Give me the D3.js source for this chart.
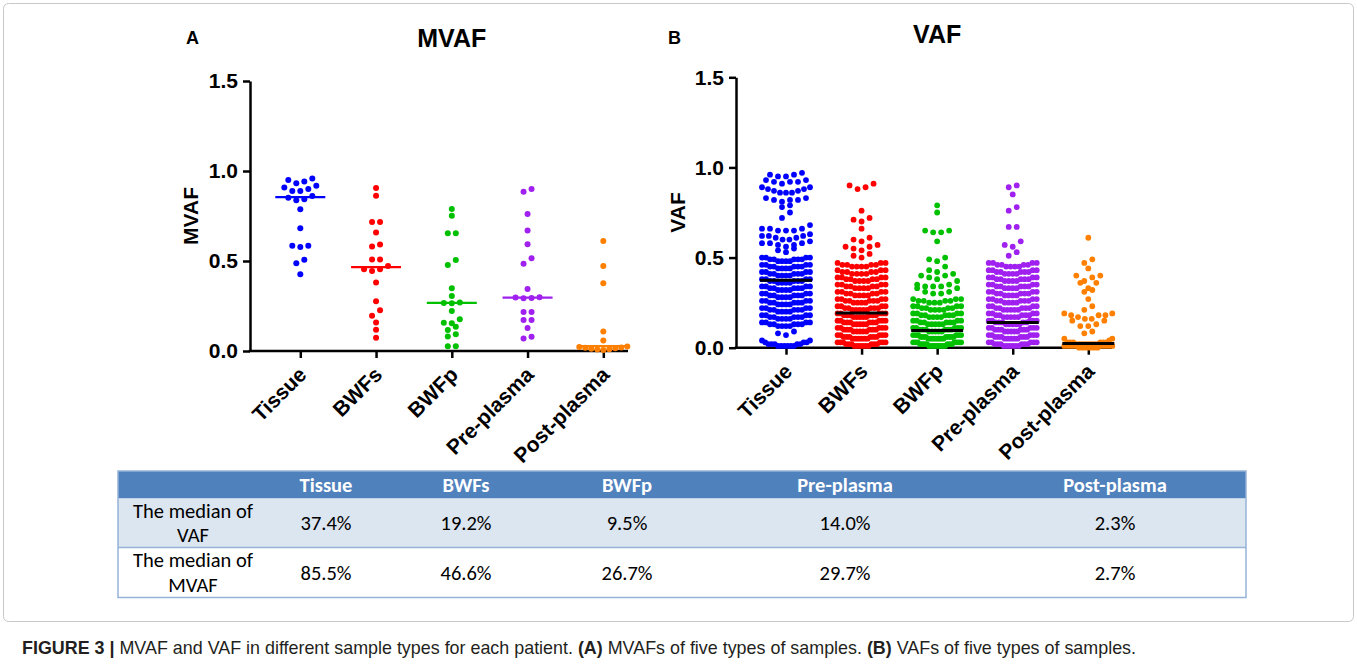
<!DOCTYPE html>
<html>
<head>
<meta charset="utf-8">
<script src="https://cdn.jsdelivr.net/npm/d3@7"></script>
<style>
  body { margin: 0; background: #fff; }
  svg { display: block; }
</style>
</head>
<body>
<div id="chart"></div>
<script>
// categories and colours
const categories = ["Tissue", "BWFs", "BWFp", "Pre-plasma", "Post-plasma"];
const colors = ["#0000ff", "#ff0000", "#00c000", "#a020f0", "#ff8000"];
const yTicks = [0, 0.5, 1.0, 1.5];

// table values (medians, %)
const vafMedianPct = [37.4, 19.2, 9.5, 14.0, 2.3];
const mvafMedianPct = [85.5, 46.6, 26.7, 29.7, 2.7];
const rowLabels = [["The median of", "VAF"], ["The median of", "MVAF"]];

// panel A: MVAF per patient
const tissueMVAF = [0.959, 0.950, 0.941, 0.932, 0.918, 0.909, 0.900, 0.889, 0.889, 0.861, 0.852, 0.843, 0.837,
  0.787, 0.682, 0.585, 0.585, 0.578, 0.507, 0.487, 0.426];
const bwfsMVAF = [0.906, 0.863, 0.717, 0.717, 0.659, 0.591, 0.580, 0.509, 0.509, 0.472, 0.454, 0.454, 0.444,
  0.380, 0.276, 0.226, 0.196, 0.159, 0.118, 0.074];
const bwfpMVAF = [0.789, 0.752, 0.654, 0.654, 0.505, 0.478, 0.348, 0.306, 0.270, 0.267, 0.265, 0.222, 0.176,
  0.157, 0.154, 0.135, 0.117, 0.093, 0.081, 0.026, 0.026];
const prePlasmaMVAF = [0.900, 0.885, 0.761, 0.669, 0.593, 0.515, 0.485, 0.344, 0.299, 0.297, 0.295, 0.293,
  0.217, 0.217, 0.172, 0.172, 0.128, 0.079, 0.070];
const postPlasmaMVAF = [0.611, 0.472, 0.376, 0.109, 0.059, 0.025, 0.022, 0.020, 0.018, 0.015, 0.012, 0.010,
  0.008, 0.005];

// panel B: VAF per mutation
const tissueVAF = [
  0.97, 0.96, 0.96, 0.95, 0.95,
  0.93, 0.93, 0.92, 0.92, 0.92, 0.91,
  0.89, 0.89, 0.88, 0.88, 0.87, 0.87, 0.86, 0.86, 0.86,
  0.83, 0.83, 0.82, 0.82, 0.82, 0.81,
  0.79, 0.78, 0.75, 0.72,
  0.68, 0.66, 0.66, 0.66, 0.65, 0.65, 0.65,
  0.63, 0.62, 0.62, 0.62, 0.61, 0.61, 0.60, 0.60,
  0.59, 0.58, 0.58, 0.58, 0.57, 0.57, 0.56,
  0.55, 0.54, 0.53,
  0.50, 0.50, 0.50, 0.50, 0.49, 0.49, 0.49, 0.49, 0.49, 0.48, 0.48, 0.48, 0.48,
  0.46, 0.46, 0.46, 0.46, 0.45, 0.45, 0.45, 0.45, 0.45, 0.44, 0.44, 0.44, 0.44,
  0.42, 0.42, 0.42, 0.42, 0.41, 0.41, 0.41, 0.41, 0.41, 0.40, 0.40, 0.40, 0.40,
  0.38, 0.38, 0.38, 0.38, 0.37, 0.37, 0.37, 0.37, 0.37, 0.36, 0.36, 0.36, 0.36,
  0.34, 0.34, 0.34, 0.34, 0.33, 0.33, 0.33, 0.33, 0.33, 0.32, 0.32, 0.32, 0.32,
  0.30, 0.30, 0.30, 0.30, 0.29, 0.29, 0.29, 0.29, 0.29, 0.28, 0.28, 0.28, 0.28,
  0.26, 0.26, 0.26, 0.26, 0.25, 0.25, 0.25, 0.25, 0.25, 0.24, 0.24, 0.24, 0.24,
  0.22, 0.22, 0.22, 0.22, 0.21, 0.21, 0.21, 0.21, 0.21, 0.20, 0.20, 0.20, 0.20,
  0.18, 0.18, 0.18, 0.18, 0.17, 0.17, 0.17, 0.17, 0.17, 0.16, 0.16, 0.16, 0.16,
  0.14, 0.14, 0.14, 0.14, 0.13, 0.13, 0.13, 0.13, 0.13, 0.12, 0.12, 0.12, 0.12,
  0.09, 0.08, 0.07,
  0.04, 0.04, 0.03, 0.03, 0.03, 0.02, 0.02, 0.02, 0.02, 0.02, 0.01, 0.01, 0.01, 0.01, 0.01, 0.01
];
const bwfsVAF = [
  0.91, 0.90, 0.89, 0.88, 0.76, 0.72, 0.71, 0.70, 0.66, 0.61, 0.60, 0.59,
  0.57, 0.56, 0.56, 0.55, 0.54, 0.52, 0.51, 0.50,
  0.47, 0.47, 0.47, 0.46, 0.46, 0.46, 0.46, 0.45, 0.45, 0.45, 0.45,
  0.43, 0.43, 0.43, 0.42, 0.42, 0.42, 0.42, 0.41, 0.41, 0.41, 0.41,
  0.39, 0.39, 0.39, 0.39, 0.38, 0.38, 0.38, 0.38, 0.37, 0.37, 0.37, 0.37,
  0.35, 0.35, 0.35, 0.35, 0.34, 0.34, 0.34, 0.34, 0.33, 0.33, 0.33, 0.33,
  0.31, 0.31, 0.31, 0.31, 0.30, 0.30, 0.30, 0.30, 0.29, 0.29, 0.29, 0.29,
  0.27, 0.27, 0.27, 0.27, 0.26, 0.26, 0.26, 0.26, 0.26, 0.25, 0.25, 0.25, 0.25,
  0.23, 0.23, 0.23, 0.23, 0.22, 0.22, 0.22, 0.22, 0.22, 0.21, 0.21, 0.21, 0.21, 0.21,
  0.19, 0.19, 0.19, 0.19, 0.19, 0.18, 0.18, 0.18, 0.18, 0.18, 0.18, 0.17, 0.17, 0.17, 0.17, 0.17,
  0.15, 0.15, 0.15, 0.15, 0.15, 0.14, 0.14, 0.14, 0.14, 0.14, 0.14, 0.13, 0.13, 0.13, 0.13, 0.13,
  0.11, 0.11, 0.11, 0.11, 0.11, 0.10, 0.10, 0.10, 0.10, 0.10, 0.10, 0.09, 0.09, 0.09, 0.09, 0.09,
  0.07, 0.07, 0.07, 0.07, 0.07, 0.06, 0.06, 0.06, 0.06, 0.06, 0.06, 0.05, 0.05, 0.05, 0.05, 0.05, 0.05,
  0.03, 0.03, 0.03, 0.03, 0.03, 0.03, 0.02, 0.02, 0.02, 0.02, 0.02, 0.02, 0.01, 0.01, 0.01, 0.01, 0.01, 0.01
];
const bwfpVAF = [
  0.79, 0.75, 0.65, 0.65, 0.64, 0.64, 0.59, 0.50, 0.49, 0.48, 0.45, 0.43, 0.42,
  0.41, 0.40, 0.40, 0.39, 0.38, 0.37, 0.35, 0.35, 0.34, 0.34, 0.34,
  0.33, 0.33, 0.31, 0.31, 0.30, 0.30,
  0.27, 0.27, 0.27, 0.26, 0.26, 0.26, 0.26, 0.25, 0.25, 0.25,
  0.23, 0.23, 0.23, 0.23, 0.22, 0.22, 0.22, 0.22, 0.21, 0.21, 0.21, 0.21,
  0.19, 0.19, 0.19, 0.19, 0.18, 0.18, 0.18, 0.18, 0.18, 0.17, 0.17, 0.17, 0.17,
  0.15, 0.15, 0.15, 0.15, 0.14, 0.14, 0.14, 0.14, 0.14, 0.13, 0.13, 0.13, 0.13, 0.13,
  0.11, 0.11, 0.11, 0.11, 0.11, 0.10, 0.10, 0.10, 0.10, 0.10, 0.10, 0.09, 0.09, 0.09, 0.09, 0.09,
  0.07, 0.07, 0.07, 0.07, 0.07, 0.07, 0.06, 0.06, 0.06, 0.06, 0.06, 0.06, 0.06,
  0.05, 0.05, 0.05, 0.05, 0.05, 0.05, 0.05,
  0.03, 0.03, 0.03, 0.03, 0.03, 0.03, 0.03, 0.02, 0.02, 0.02, 0.02, 0.02, 0.02, 0.02,
  0.01, 0.01, 0.01, 0.01, 0.01, 0.01, 0.01, 0.01
];
const prePlasmaVAF = [
  0.90, 0.89, 0.85, 0.78, 0.76, 0.67, 0.67, 0.59, 0.57, 0.56, 0.53, 0.51,
  0.47, 0.47, 0.47, 0.47, 0.46, 0.46, 0.46, 0.46, 0.45, 0.45, 0.45, 0.45,
  0.43, 0.43, 0.43, 0.43, 0.42, 0.42, 0.42, 0.42, 0.42, 0.41, 0.41, 0.41, 0.41,
  0.39, 0.39, 0.39, 0.39, 0.38, 0.38, 0.38, 0.38, 0.38, 0.37, 0.37, 0.37, 0.37,
  0.35, 0.35, 0.35, 0.35, 0.34, 0.34, 0.34, 0.34, 0.34, 0.33, 0.33, 0.33, 0.33,
  0.31, 0.31, 0.31, 0.31, 0.30, 0.30, 0.30, 0.30, 0.30, 0.29, 0.29, 0.29, 0.29,
  0.27, 0.27, 0.27, 0.27, 0.26, 0.26, 0.26, 0.26, 0.26, 0.25, 0.25, 0.25, 0.25,
  0.23, 0.23, 0.23, 0.23, 0.22, 0.22, 0.22, 0.22, 0.22, 0.21, 0.21, 0.21, 0.21, 0.21,
  0.19, 0.19, 0.19, 0.19, 0.18, 0.18, 0.18, 0.18, 0.18, 0.17, 0.17, 0.17, 0.17, 0.17,
  0.15, 0.15, 0.15, 0.15, 0.15, 0.14, 0.14, 0.14, 0.14, 0.14, 0.13, 0.13, 0.13, 0.13, 0.13,
  0.11, 0.11, 0.11, 0.11, 0.11, 0.10, 0.10, 0.10, 0.10, 0.10, 0.10, 0.09, 0.09, 0.09, 0.09, 0.09,
  0.07, 0.07, 0.07, 0.07, 0.07, 0.06, 0.06, 0.06, 0.06, 0.06, 0.06, 0.05, 0.05, 0.05, 0.05, 0.05,
  0.03, 0.03, 0.03, 0.03, 0.03, 0.02, 0.02, 0.02, 0.02, 0.02, 0.02, 0.01, 0.01, 0.01, 0.01, 0.01, 0.01
];
const postPlasmaVAF = [
  0.61, 0.49, 0.47, 0.44, 0.40, 0.40, 0.39, 0.37, 0.36, 0.36, 0.33, 0.32, 0.31, 0.27, 0.23, 0.21,
  0.19, 0.19, 0.18, 0.18, 0.18, 0.17, 0.16, 0.16, 0.15, 0.15, 0.13, 0.12, 0.12, 0.09, 0.08,
  0.05, 0.05, 0.04, 0.03, 0.03, 0.03, 0.03, 0.03, 0.03,
  0.02, 0.02, 0.02, 0.02, 0.02, 0.02, 0.02, 0.02,
  0.01, 0.01, 0.01, 0.01, 0.01, 0.01, 0.01, 0.01,
  0.00, 0.00, 0.00, 0.00, 0.00, 0.00
];

const chartFont = "'Liberation Sans', Arial, sans-serif";
const tableFont = "Carlito, Lato, sans-serif";

const svg = d3.select("#chart").append("svg")
  .attr("width", 1357)
  .attr("height", 666);

// figure frame
svg.append("rect")
  .attr("x", 3.5).attr("y", 3.5)
  .attr("width", 1350).attr("height", 618)
  .attr("rx", 5)
  .attr("fill", "none")
  .attr("stroke", "#c8c8c8");

// Prism-like scatter: bin points into rows, lowest value in the middle of a row
const swarm = function (values, y, binPx, sMax, halfW) {
  const sorted = values.slice().sort((a, b) => b - a);
  const out = [];
  let i = 0;
  while (i < sorted.length) {
    const top = y(sorted[i]);
    const bin = [];
    while (i < sorted.length && y(sorted[i]) - top < binPx) { bin.push(sorted[i]); i++; }
    bin.sort((a, b) => a - b);
    const n = bin.length;
    const s = n > 1 ? Math.min(sMax, 2 * halfW / (n - 1)) : 0;
    const offs = d3.range(n).map(k => (k - (n - 1) / 2) * s)
      .sort((a, b) => Math.abs(a) - Math.abs(b) || a - b);
    bin.forEach((v, k) => out.push({ v: v, dx: offs[k] }));
  }
  return out;
};

const panels = [
  {
    letter: "A", title: "MVAF", yLabel: "MVAF",
    series: [tissueMVAF, bwfsMVAF, bwfpMVAF, prePlasmaMVAF, postPlasmaMVAF],
    medians: mvafMedianPct, lineColor: null,
    left: 250, top: 81, bottom: 351, xFirst: 300.3, xLast: 603.3, xEnd: 628,
    r: 3, lineW: 2.3, lineHalf: 25, binPx: 6, sMax: 8, halfW: 24,
    letterX: 186, letterY: 43.5, titleY: 46.5, yLabelX: 198
  },
  {
    letter: "B", title: "VAF", yLabel: "VAF",
    series: [tissueVAF, bwfsVAF, bwfpVAF, prePlasmaVAF, postPlasmaVAF],
    medians: vafMedianPct, lineColor: "#000",
    left: 736, top: 77.3, bottom: 347.7, xFirst: 786, xLast: 1088.3, xEnd: 1112,
    r: 2.9, lineW: 3, lineHalf: 26, binPx: 6, sMax: 8, halfW: 24,
    letterX: 668, letterY: 43.5, titleY: 42.7, yLabelX: 685
  }
];

const drawPanel = function (p) {
  const y = d3.scaleLinear().domain([0, 1.5]).range([p.bottom, p.top]);
  const x = d3.scalePoint().domain(categories).range([p.xFirst, p.xLast]);

  // Y axis
  const gy = svg.append("g")
    .attr("transform", `translate(${p.left},0)`)
    .call(d3.axisLeft(y).tickValues(yTicks).tickFormat(d3.format(".1f"))
      .tickSize(7).tickPadding(5).tickSizeOuter(0));
  gy.attr("font-family", chartFont).attr("font-size", 21).attr("font-weight", "bold");
  gy.selectAll("path, line").attr("stroke", "#000").attr("stroke-width", 2.5);
  gy.selectAll("text").attr("fill", "#000");

  // X axis
  const gx = svg.append("g")
    .attr("transform", `translate(0,${p.bottom})`)
    .call(d3.axisBottom(x).tickSize(7).tickSizeOuter(0));
  gx.attr("font-family", chartFont).attr("font-size", 21).attr("font-weight", "bold");
  gx.select(".domain").attr("d", `M${p.left - 1.25},0H${p.xEnd}`);
  gx.selectAll("path, line").attr("stroke", "#000").attr("stroke-width", 2.5);
  gx.selectAll(".tick text")
    .attr("fill", "#000")
    .attr("text-anchor", "end")
    .attr("x", 0).attr("y", 0).attr("dy", null)
    .attr("transform", "translate(7,25) rotate(-45)");

  // dots
  p.series.forEach((vals, i) => {
    const pts = swarm(vals, y, p.binPx, p.sMax, p.halfW);
    svg.append("g").selectAll("circle")
      .data(pts)
      .join("circle")
      .attr("cx", d => x(categories[i]) + d.dx)
      .attr("cy", d => y(d.v))
      .attr("r", p.r)
      .attr("fill", colors[i]);
  });

  // median lines
  svg.append("g").selectAll("line")
    .data(p.medians)
    .join("line")
    .attr("x1", (d, i) => x(categories[i]) - p.lineHalf)
    .attr("x2", (d, i) => x(categories[i]) + p.lineHalf)
    .attr("y1", d => y(d / 100))
    .attr("y2", d => y(d / 100))
    .attr("stroke", (d, i) => p.lineColor || colors[i])
    .attr("stroke-width", p.lineW);

  // titles
  svg.append("text")
    .attr("x", p.letterX).attr("y", p.letterY)
    .attr("font-family", chartFont).attr("font-weight", "bold").attr("font-size", 18)
    .text(p.letter);
  svg.append("text")
    .attr("x", x(categories[2])).attr("y", p.titleY)
    .attr("text-anchor", "middle")
    .attr("font-family", chartFont).attr("font-weight", "bold").attr("font-size", 25)
    .text(p.title);
  svg.append("text")
    .attr("transform", `translate(${p.yLabelX},${(p.top + p.bottom) / 2}) rotate(-90)`)
    .attr("text-anchor", "middle")
    .attr("font-family", chartFont).attr("font-weight", "bold").attr("font-size", 21)
    .text(p.yLabel);
};

panels.forEach(drawPanel);

// table of medians
const colEdges = [118, 268, 384, 548, 706, 984, 1246];
const rowEdges = [471, 498.5, 547.5, 597.5];
const colMid = d3.range(colEdges.length - 1).map(i => (colEdges[i] + colEdges[i + 1]) / 2);
const table = svg.append("g").attr("font-family", tableFont).attr("font-size", 20.5);

table.selectAll("rect.row")
  .data(["#4f81bd", "#dce6f1", "#ffffff"])
  .join("rect")
  .attr("class", "row")
  .attr("x", colEdges[0])
  .attr("y", (d, i) => rowEdges[i])
  .attr("width", colEdges[colEdges.length - 1] - colEdges[0])
  .attr("height", (d, i) => rowEdges[i + 1] - rowEdges[i])
  .attr("fill", d => d);

table.append("line")
  .attr("x1", colEdges[0]).attr("x2", colEdges[colEdges.length - 1])
  .attr("y1", rowEdges[2]).attr("y2", rowEdges[2])
  .attr("stroke", "#95b3d7").attr("stroke-width", 1.5);
table.append("rect")
  .attr("x", colEdges[0]).attr("y", rowEdges[0])
  .attr("width", colEdges[colEdges.length - 1] - colEdges[0])
  .attr("height", rowEdges[3] - rowEdges[0])
  .attr("fill", "none").attr("stroke", "#95b3d7").attr("stroke-width", 1.5);

table.selectAll("text.head")
  .data(categories)
  .join("text")
  .attr("class", "head")
  .attr("x", (d, i) => colMid[i + 1])
  .attr("y", (rowEdges[0] + rowEdges[1]) / 2)
  .attr("dy", "0.35em")
  .attr("text-anchor", "middle")
  .attr("font-weight", "bold")
  .attr("fill", "#fff")
  .text(d => d);

[vafMedianPct, mvafMedianPct].forEach((vals, r) => {
  const yMid = (rowEdges[r + 1] + rowEdges[r + 2]) / 2;
  table.append("g").selectAll("text")
    .data(rowLabels[r])
    .join("text")
    .attr("x", colMid[0])
    .attr("y", (d, k) => yMid + (k - 0.5) * 24.5)
    .attr("dy", "0.35em")
    .attr("text-anchor", "middle")
    .attr("fill", "#000")
    .text(d => d);
  table.append("g").selectAll("text")
    .data(vals)
    .join("text")
    .attr("x", (d, i) => colMid[i + 1])
    .attr("y", yMid)
    .attr("dy", "0.35em")
    .attr("text-anchor", "middle")
    .attr("fill", "#000")
    .text(d => d.toFixed(1) + "%");
});

// caption
const caption = svg.append("text")
  .attr("x", 22).attr("y", 654)
  .attr("font-family", chartFont).attr("font-size", 17.9)
  .attr("fill", "#231f20");
[["FIGURE 3 | ", true], ["MVAF and VAF in different sample types for each patient. ", false],
 ["(A)", true], [" MVAFs of five types of samples. ", false],
 ["(B)", true], [" VAFs of five types of samples.", false]]
  .forEach(([t, b]) => caption.append("tspan").attr("font-weight", b ? "bold" : "normal").text(t));
</script>
</body>
</html>
